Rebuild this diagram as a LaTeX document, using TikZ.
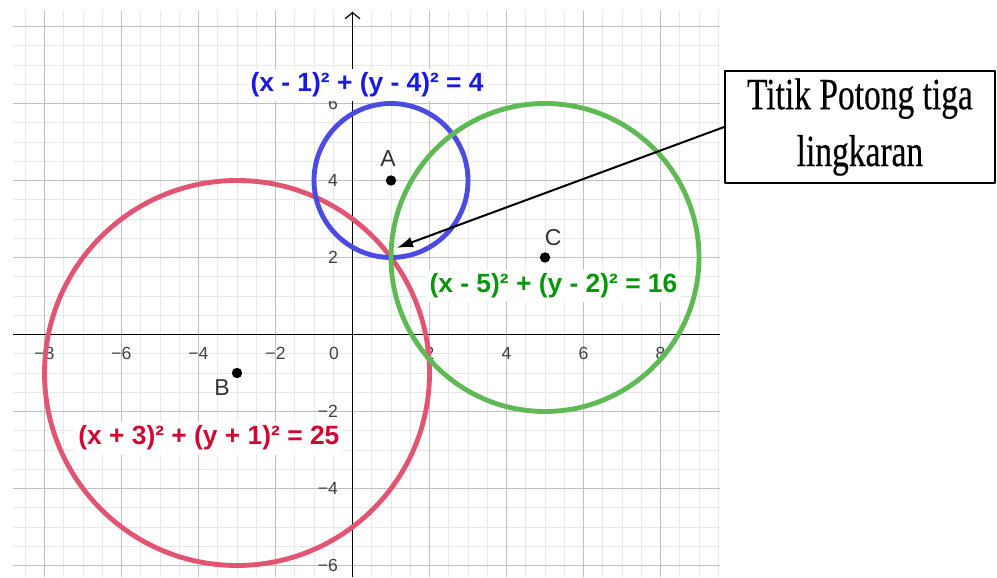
\documentclass[tikz,border=0pt]{standalone}
\usepackage{fontspec}
\setmainfont{Liberation Serif}
\setsansfont{Liberation Sans}
\newfontfamily\ketfont[FakeStretch=0.75,FakeBold=0.4]{Liberation Serif}
\usepackage{tikz}
\usetikzlibrary{arrows.meta,calc}
\usetikzlibrary{positioning}
\definecolor{lingA}{RGB}{75,75,225}
\definecolor{lingB}{RGB}{225,85,115}
\definecolor{lingC}{RGB}{95,185,85}
\definecolor{teksA}{RGB}{25,25,225}
\definecolor{teksB}{RGB}{205,10,50}
\definecolor{teksC}{RGB}{10,150,10}
\tikzset{persamaan/.style={font=\sffamily\bfseries\fontsize{19.5}{22}\selectfont,fill=white,inner sep=3pt,anchor=base}}
\tikzset{titik/.style={circle,fill=black,inner sep=0pt,minimum size=0.27cm}}
\tikzset{namatitik/.style={font=\sffamily\fontsize{17}{19}\selectfont,text=black!80,inner sep=0pt}}
\tikzset{angka/.style={font=\sffamily\fontsize{13}{15}\selectfont,text=black!75,inner sep=0pt}}

\begin{document}
\begin{tikzpicture}[>=Stealth,line join=round]
\useasboundingbox (-9.156,-6.299) rectangle (16.74,8.688);
% --- grid and axes
\draw[black!9,line width=0.7pt] (-8.82,-6.3) grid[step=0.5] (9.55,8.4);
\draw[black!25,line width=1pt] (-8.82,-6.3) grid[step=2] (9.55,8.4);
\draw[line width=0.9pt] (-8.82,0) -- (9.55,0);
\draw[line width=0.9pt,-{Straight Barb[length=4.5pt,width=11pt]}] (0,-6.3) -- (0,8.38);
\foreach \x/\t in {-8/−8,-6/−6,-4/−4,-2/−2,2/2,4/4,6/6,8/8}
  \node[angka] (sx\x) at (\x,-0.48) {\t};
\foreach \y/\t in {-6/−6,-4/−4,-2/−2,2/2,4/4,6/6}
  \node[angka,anchor=east] (sy\y) at (-0.37,\y) {\t};
\node[angka] (nol) at (-0.48,-0.48) {0};
% --- the three circles
\draw[lingB,line width=3.6pt] (-3,-1) circle (5);
\draw[lingA,line width=3.6pt] (1,4) circle (2);
\draw[lingC,line width=3.6pt] (5,2) circle (4);
\node[titik] (A) at (1,4) {};
\node[titik] (B) at (-3,-1) {};
\node[titik] (C) at (5,2) {};
\node[namatitik] (labA) at (0.92,4.58) {A};
\node[namatitik] (labB) at (-3.39,-1.39) {B};
\node[namatitik] (labC) at (5.21,2.53) {C};
\node[persamaan,text=teksA] (eqA) at (0.38,6.30) {(x - 1)² + (y - 4)² = 4};
\node[persamaan,text=teksC] (eqC) at (5.22,1.08) {(x - 5)² + (y - 2)² = 16};
\node[persamaan,text=teksB] (eqB) at (-3.73,-2.87) {(x + 3)² + (y + 1)² = 25};
% --- keterangan
\coordinate (tp) at (1.15,2.25);
\node[draw,line width=1.1pt,minimum width=7.01cm,minimum height=2.9cm,align=center,inner sep=0pt,
  font=\ketfont\fontsize{33}{42}\selectfont] (ket) at (13.18,5.39) {Titik Potong tiga\\lingkaran};
\draw[-{Latex[length=12pt,width=8pt]},line width=1.5pt] (ket.west) -- (tp);
\end{tikzpicture}
\end{document}
